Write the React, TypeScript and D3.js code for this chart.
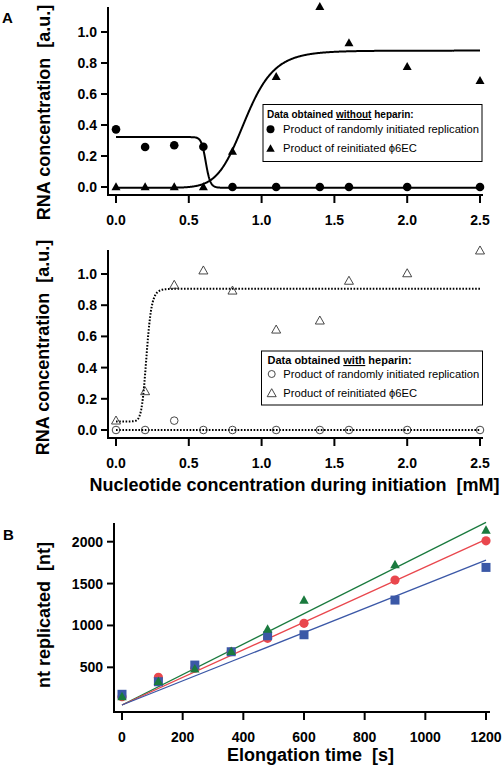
import React from 'react';
import * as d3 from 'd3';

// ---------- Panel A data ----------
const concX = [0, 0.2, 0.4, 0.6, 0.8, 1.1, 1.4, 1.6, 2.0, 2.5];
const randomNoHeparin = [0.372, 0.258, 0.269, 0.26, 0, 0, 0, 0, 0, 0];
const reinitNoHeparin = [0.005, 0.005, 0.005, 0.005, 0.234, 0.716, 1.168, 0.934, 0.78, 0.69];
const randomHeparin = [0, 0, 0.06, 0, 0, 0, 0, 0, 0, 0];
const reinitHeparin = [0.064, 0.252, 0.934, 1.026, 0.897, 0.647, 0.705, 0.96, 1.008, 1.154];
const concTicks = [0, 0.5, 1.0, 1.5, 2.0, 2.5];
const rnaTicks = [0, 0.2, 0.4, 0.6, 0.8, 1.0];

// Hill fits: base, top, k, n
const fitRandomNoHep = { base: 0.322, top: -0.005, k: 0.617, n: 40 };
const fitReinitNoHep = { base: -0.005, top: 0.88, k: 0.89, n: 9 };
const fitRandomHep = { base: 0.0, top: 0.0, k: 1, n: 1 };
const fitReinitHep = { base: 0.055, top: 0.905, k: 0.21, n: 12 };

// ---------- Panel B data ----------
const timeX = [0, 120, 240, 360, 480, 600, 900, 1200];
const redCircles = [149, 380, 490, 686, 846, 1025, 1542, 2011];
const blueSquares = [178, 328, 527, 686, 877, 889, 1303, 1693];
const greenTriangles = [157, 340, 488, 698, 965, 1311, 1733, 2147];
const timeTicks = [0, 200, 400, 600, 800, 1000, 1200];
const ntTicks = [500, 1000, 1500, 2000];
const fitIntercepts = { red: 50, blue: 50, green: 50 };
const fitSlopes = { red: 1.648, blue: 1.442, green: 1.817 };

const FONT = "'Liberation Sans', Arial, Helvetica, sans-serif";
const RED = '#e9474d';
const BLUE = '#3b58a7';
const GREEN = '#1a7a3e';

const hill = (p: any, x: number) => {
  const r = Math.pow(x, p.n) / (Math.pow(x, p.n) + Math.pow(p.k, p.n));
  return p.base + (p.top - p.base) * r;
};

const triPath = (w: number, h: number) =>
  `M0,${-h / 2}L${w / 2},${h / 2}L${-w / 2},${h / 2}Z`;
const sqPath = (s: number) =>
  `M${-s / 2},${-s / 2}H${s / 2}V${s / 2}H${-s / 2}Z`;

const xA = d3.scaleLinear().domain([0, 2.5]).range([116, 480]);
const yA1 = d3.scaleLinear().domain([0, 1]).range([187, 32]);
const yA2 = d3.scaleLinear().domain([0, 1]).range([430, 274]);
const xB = d3.scaleLinear().domain([0, 1200]).range([122, 486]);
const yB = d3.scaleLinear().domain([0, 2000]).range([709.2, 541.7]);

const curveXs = d3.range(0, 2.5001, 0.0025);

function AxisLeft({ scale, ticks, x, y0, y1, fmt }: any) {
  return (
    <g>
      <line x1={x} x2={x} y1={y0} y2={y1} stroke="#000" strokeWidth={2} />
      {ticks.map((t: number) => (
        <g key={t}>
          <line x1={x - 7} x2={x} y1={scale(t)} y2={scale(t)} stroke="#000" strokeWidth={2} />
          <text x={x - 11} y={scale(t)} dy="0.36em" textAnchor="end" fontSize={14} fontWeight="bold" fontFamily={FONT}>
            {fmt(t)}
          </text>
        </g>
      ))}
    </g>
  );
}

function AxisBottom({ scale, ticks, y, x0, x1, fmt, labelY }: any) {
  return (
    <g>
      <line x1={x0} x2={x1} y1={y} y2={y} stroke="#000" strokeWidth={2} />
      {ticks.map((t: number) => (
        <g key={t}>
          <line x1={scale(t)} x2={scale(t)} y1={y} y2={y + 8} stroke="#000" strokeWidth={2} />
          <text x={scale(t)} y={labelY} textAnchor="middle" fontSize={14} fontWeight="bold" fontFamily={FONT}>
            {fmt(t)}
          </text>
        </g>
      ))}
    </g>
  );
}

export default function App() {
  const f1 = d3.format('.1f');
  const f0 = d3.format('d');
  const lineA1 = d3.line<number>().x((d) => xA(d)).y((d) => yA1(hill(fitRandomNoHep, d)));
  const lineA1b = d3.line<number>().x((d) => xA(d)).y((d) => yA1(hill(fitReinitNoHep, d)));
  const lineA2 = d3.line<number>().x((d) => xA(d)).y((d) => yA2(hill(fitRandomHep, d)));
  const lineA2b = d3.line<number>().x((d) => xA(d)).y((d) => yA2(hill(fitReinitHep, d)));
  const fitLine = (key: 'red' | 'blue' | 'green') =>
    d3.line<number>().x((d) => xB(d)).y((d) => yB(fitIntercepts[key] + fitSlopes[key] * d))([0, 1200]) as string;

  return (
    <svg width={502} height={765} style={{ position: 'absolute', left: 0, top: 0, background: '#fff' }}>
      <rect x={0} y={0} width={502} height={765} fill="#fff" />
      {/* ---------- Panel A top ---------- */}
      <text x={2} y={23} fontSize={15} fontWeight="bold" fontFamily={FONT}>A</text>
      <text transform="translate(50,112.5) rotate(-90)" textAnchor="middle" fontSize={18} fontWeight="bold" fontFamily={FONT}>
        RNA concentration{'\u00a0\u00a0'}[a.u.]
      </text>
      <AxisLeft scale={yA1} ticks={rnaTicks} x={108} y0={7} y1={196} fmt={f1} />
      <AxisBottom scale={xA} ticks={concTicks} y={195} x0={107} x1={483} fmt={f1} labelY={225} />
      <path d={lineA1(curveXs) as string} fill="none" stroke="#000" strokeWidth={2} />
      <path d={lineA1b(curveXs) as string} fill="none" stroke="#000" strokeWidth={2} />
      {concX.map((x, i) => (
        <circle key={'c' + i} cx={xA(x)} cy={yA1(randomNoHeparin[i])} r={4.3} fill="#000" />
      ))}
      {concX.map((x, i) => (
        <path key={'t' + i} transform={`translate(${xA(x)},${yA1(reinitNoHeparin[i])})`} d={triPath(9, 8)} fill="#000" />
      ))}
      {/* legend A1 */}
      <rect x={263} y={104.5} width={219} height={57} fill="#fff" stroke="#000" strokeWidth={1} />
      <text x={267} y={118} fontSize={10} fontWeight="bold" fontFamily={FONT}>
        Data obtained <tspan style={{ textDecoration: 'underline' }}>without</tspan> heparin:
      </text>
      <circle cx={270.5} cy={129.3} r={4} fill="#000" />
      <text x={283} y={132.5} fontSize={11.2} fontFamily={FONT}>Product of randomly initiated replication</text>
      <path transform="translate(270.5,148)" d={triPath(8.5, 7.5)} fill="#000" />
      <text x={283} y={151.5} fontSize={11.2} fontFamily={FONT}>Product of reinitiated ϕ6EC</text>

      {/* ---------- Panel A bottom ---------- */}
      <text transform="translate(48.5,347.5) rotate(-90)" textAnchor="middle" fontSize={18} fontWeight="bold" fontFamily={FONT}>
        RNA concentration{'\u00a0\u00a0'}[a.u.]
      </text>
      <AxisLeft scale={yA2} ticks={rnaTicks} x={108} y0={250} y1={439} fmt={f1} />
      <AxisBottom scale={xA} ticks={concTicks} y={438} x0={107} x1={483} fmt={f1} labelY={468} />
      <text x={294.5} y={491} textAnchor="middle" fontSize={18} fontWeight="bold" fontFamily={FONT}>
        Nucleotide concentration during initiation{'\u00a0\u00a0'}[mM]
      </text>
      <path d={lineA2(curveXs) as string} fill="none" stroke="#000" strokeWidth={2} strokeDasharray="1.6,1.6" />
      <path d={lineA2b(curveXs) as string} fill="none" stroke="#000" strokeWidth={2} strokeDasharray="1.6,1.6" />
      {concX.map((x, i) => (
        <circle key={'oc' + i} cx={xA(x)} cy={yA2(randomHeparin[i])} r={3.8} fill="none" stroke="#333" strokeWidth={0.9} />
      ))}
      {concX.map((x, i) => (
        <path key={'ot' + i} transform={`translate(${xA(x)},${yA2(reinitHeparin[i])})`} d={triPath(9, 8)} fill="none" stroke="#333" strokeWidth={0.9} />
      ))}
      {/* legend A2 */}
      <rect x={261.5} y={351} width={221} height={54} fill="#fff" stroke="#000" strokeWidth={1} />
      <text x={267.5} y={364} fontSize={11} fontWeight="bold" fontFamily={FONT}>
        Data obtained <tspan style={{ textDecoration: 'underline' }}>with</tspan> heparin:
      </text>
      <circle cx={271.7} cy={374} r={3.5} fill="none" stroke="#333" strokeWidth={0.9} />
      <text x={283.3} y={377.5} fontSize={11.2} fontFamily={FONT}>Product of randomly initiated replication</text>
      <path transform="translate(271.7,392.7)" d={triPath(9, 8)} fill="none" stroke="#333" strokeWidth={0.9} />
      <text x={283.3} y={397} fontSize={11.2} fontFamily={FONT}>Product of reinitiated ϕ6EC</text>

      {/* ---------- Panel B ---------- */}
      <text x={3} y={539.5} fontSize={15} fontWeight="bold" fontFamily={FONT}>B</text>
      <text transform="translate(50,615) rotate(-90)" textAnchor="middle" fontSize={18} fontWeight="bold" fontFamily={FONT}>
        nt replicated{'\u00a0\u00a0'}[nt]
      </text>
      <AxisLeft scale={yB} ticks={ntTicks} x={114} y0={523} y1={713} fmt={f0} />
      <AxisBottom scale={xB} ticks={timeTicks} y={712} x0={113} x1={490} fmt={f0} labelY={742} />
      <text x={310.5} y={761} textAnchor="middle" fontSize={18} fontWeight="bold" fontFamily={FONT}>
        Elongation time{'\u00a0\u00a0'}[s]
      </text>
      <path d={fitLine('green')} stroke={GREEN} strokeWidth={1.3} fill="none" />
      <path d={fitLine('red')} stroke={RED} strokeWidth={1.3} fill="none" />
      <path d={fitLine('blue')} stroke={BLUE} strokeWidth={1.3} fill="none" />
      {timeX.map((t, i) => (
        <circle key={'r' + i} cx={xB(t)} cy={yB(redCircles[i])} r={4.6} fill={RED} />
      ))}
      {timeX.map((t, i) => (
        <path key={'b' + i} transform={`translate(${xB(t)},${yB(blueSquares[i])})`} d={sqPath(9)} fill={BLUE} />
      ))}
      {timeX.map((t, i) => (
        <path key={'g' + i} transform={`translate(${xB(t)},${yB(greenTriangles[i])})`} d={triPath(9.5, 8.5)} fill={GREEN} />
      ))}
    </svg>
  );
}
